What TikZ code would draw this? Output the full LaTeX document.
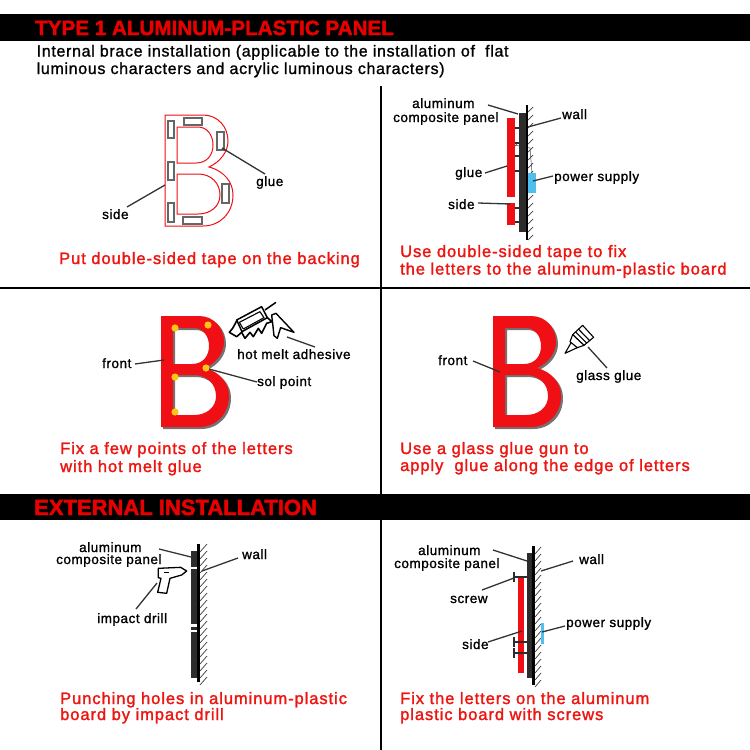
\documentclass[tikz,border=0pt]{standalone}
\usepackage{fontspec}
\setmainfont{Liberation Sans}
\newfontfamily\labfont{Liberation Sans}[FakeBold=1.2,LetterSpace=4]
\newfontfamily\capfont{Liberation Sans}[FakeBold=1.6,LetterSpace=5.7]
\newfontfamily\subfont{Liberation Sans}[FakeBold=1.2,LetterSpace=4.2]
\newfontfamily\headfont{Liberation Sans Bold}[FakeBold=2,LetterSpace=0.5]
\newfontfamily\headbfont{Liberation Sans Bold}[FakeBold=2]
\definecolor{capred}{HTML}{EE1410}
\definecolor{headred}{HTML}{E80000}
\definecolor{lred}{HTML}{F00F14}
\definecolor{panelgray}{HTML}{2C2C2C}
\definecolor{skyb}{HTML}{4FC0EE}
\definecolor{dotyellow}{HTML}{FFC414}
\newcommand{\BShape}{(165,115) -- (203,115) .. controls (218,115) and (228,127) .. (228,141) .. controls (228,152) and (220,162) .. (209,167) .. controls (224,171) and (233,182) .. (233,195) .. controls (233,213) and (220,226) .. (203,226) -- (165,226) -- cycle (177,127) -- (198,127) .. controls (207,127) and (213,135) .. (213,145) .. controls (213,155) and (207,163) .. (196,163) -- (177,163) -- cycle (177,174) -- (198,174) .. controls (211,174) and (220,183) .. (220,195) .. controls (220,206) and (211,214) .. (198,214) -- (177,214) -- cycle}
\tikzset{
  labtxt/.style={inner sep=0pt,anchor=base west,font=\labfont\fontsize{13.5}{15}\selectfont,text=black},
  captxt/.style={inner sep=0pt,anchor=base west,yshift=-1pt,font=\capfont\fontsize{16.5}{18}\selectfont,text=capred},
  subtxt/.style={inner sep=0pt,anchor=base west,font=\subfont\fontsize{16}{18}\selectfont,text=black},
  headtxt/.style={inner sep=0pt,anchor=base west,font=\headfont\fontsize{20.5}{24}\selectfont,text=headred},
  headbtxt/.style={inner sep=0pt,anchor=base west,font=\headbfont\fontsize{22}{24}\selectfont,text=headred},
  leadline/.style={draw=black!80,line width=1.3pt},
  gridline/.style={draw=black,line width=2pt},
  gluebox/.style={draw=black!60,fill=white,line width=1.2pt},
  hatchline/.style={draw=black!75,line width=.7pt},
  tieline/.style={draw=panelgray,line width=1.3pt},
  toolline/.style={draw=black,line width=1.1pt,line join=round,fill=white}
}
\begin{document}
\begin{tikzpicture}[x=1pt,y=-1pt]
\useasboundingbox (0,0) rectangle (750,750);
\fill[white] (0,0) rectangle (750,750);
% bars
\fill[black] (0,14) rectangle (750,41);
\fill[black] (0,494) rectangle (750,520);
\node[headtxt] (title1) at (35,35) {TYPE 1 ALUMINUM-PLASTIC PANEL};
\node[headbtxt] (title2) at (34,515) {EXTERNAL INSTALLATION};
\node[subtxt] (sub1) at (36.5,56.5) {Internal brace installation (applicable to the installation of\ \ flat};
\node[subtxt] (sub2) at (36.5,74) {luminous characters and acrylic luminous characters)};
% grid
\draw[gridline] (381,86) -- (381,494);
\draw[gridline] (381,520) -- (381,750);
\draw[gridline] (0,288) -- (750,288);
% --- cell 1
\draw[draw=lred,line width=1pt,even odd rule] \BShape;
\foreach \a/\b/\c/\d in {168/121/174/138,184/118/202/125,217/132/224/150,168/162/174/180,222/184/229/203,168/203/174/222,183/217/202/224}
  \draw[gluebox] (\a,\b) rectangle (\c,\d);
\node[labtxt] (side1) at (102,219) {side};
\node[labtxt] (glue1) at (256,186) {glue};
\coordinate (s1a) at (127,207); \coordinate (s1b) at (165,185);
\coordinate (g1a) at (265,174); \coordinate (g1b) at (222,148);
\draw[leadline] (s1a) -- (s1b);
\draw[leadline] (g1a) -- (g1b);
\node[captxt] (cap1) at (59,263) {Put double-sided tape on the backing};
% --- cell 2
\draw[line width=.5pt,draw=black!70] (514,145) -- (530,148) -- (532,173);
\draw[line width=.5pt,draw=black!70] (514,147) -- (518,143) -- (528,150);
\foreach \y in {128,143,156,171,208,222} \draw[tieline] (514,\y) -- (519,\y);
\fill[lred] (507,118) rectangle (514.5,197);
\fill[lred] (507,203) rectangle (514.5,225);
\fill[panelgray] (518.5,113) rectangle (526,232);
\draw[draw=black,line width=2pt] (527,105) -- (527,240);
\foreach \y in {108,116,...,236} \draw[hatchline] (528,\y+4) -- (533,\y-1);
\fill[skyb] (528,173) rectangle (536,193);
\node[labtxt] (alu2) at (412,108) {aluminum};
\node[labtxt] (comp2) at (393,122) {composite panel};
\node[labtxt] (wall2) at (562,119) {wall};
\node[labtxt] (glue2) at (455,177) {glue};
\node[labtxt] (pow2) at (554,181) {power supply};
\node[labtxt] (side2) at (448,209) {side};
\coordinate (a2a) at (488,105); \coordinate (a2b) at (518,114);
\coordinate (w2a) at (561,118); \coordinate (w2b) at (528,127);
\coordinate (g2a) at (485,173); \coordinate (g2b) at (507,166);
\coordinate (p2a) at (553,176); \coordinate (p2b) at (533,181);
\coordinate (d2a) at (478,203); \coordinate (d2b) at (510,204);
\draw[leadline] (a2a) -- (a2b);
\draw[leadline] (w2a) -- (w2b);
\draw[leadline] (g2a) -- (g2b);
\draw[leadline] (p2a) -- (p2b);
\draw[leadline] (d2a) -- (d2b);
\node[captxt] (cap2a) at (400,256) {Use double-sided tape to fix};
\node[captxt] (cap2b) at (400,273.5) {the letters to the aluminum-plastic board};
% --- cell 3
\begin{scope}[shift={(-4,201)}]
\fill[black!55,even odd rule,shift={(2,2)}] \BShape;
\fill[lred,even odd rule] \BShape;
\end{scope}
\foreach \x/\y in {175/328,208/325,175/377,206/368,175/412}
  \fill[dotyellow] (\x,\y) circle (3.6);
% glue gun
\begin{scope}[shift={(90,295)},x=.3333pt,y=-.3333pt]
\draw[toolline,line width=1.5pt] (525,45) -- (558,22);
\draw[toolline,line width=1.4pt] (545,60) -- (558,55) -- (612,112) -- (572,98) -- (562,130) -- (552,122) -- (548,85) -- cycle;
\draw[toolline,line width=1.6pt] (440,78) -- (428,100) -- (418,112) -- (440,125) -- (455,112) -- (465,130) -- (480,112) -- (490,125) -- (505,100) -- (515,115) -- (530,85) -- (546,80) -- (532,68) -- cycle;
\draw[toolline,line width=1.5pt] (440,75) -- (515,35) -- (532,68) -- (456,110) -- cycle;
\draw[toolline] (448,82) -- (510,50) -- (522,68) -- (460,102) -- cycle;
\end{scope}
\node[labtxt] (front3) at (102,368) {front};
\node[labtxt] (hot3) at (237,359) {hot melt adhesive};
\node[labtxt] (sol3) at (257,386) {sol point};
\coordinate (f3a) at (135,364); \coordinate (f3b) at (164,360);
\coordinate (h3a) at (315,347); \coordinate (h3b) at (287,337);
\coordinate (o3a) at (257,382); \coordinate (o3b) at (209,369);
\draw[leadline] (f3a) -- (f3b);
\draw[leadline] (h3a) -- (h3b);
\draw[leadline] (o3a) -- (o3b);
\node[captxt] (cap3a) at (60,453) {Fix a few points of the letters};
\node[captxt] (cap3b) at (60,471) {with hot melt glue};
% --- cell 4
\begin{scope}[shift={(328,201)}]
\fill[black!55,even odd rule,shift={(2,2)}] \BShape;
\fill[lred,even odd rule] \BShape;
\end{scope}
\begin{scope}[shift={(430,300)},x=.3333pt,y=-.3333pt]
\draw[toolline] (425,125) -- (405,160) -- (442,143) -- cycle;
\draw[toolline] (458,76) -- (491,112) -- (462,136) -- (428,104) -- cycle;
\draw[toolline] (420,125) -- (428,104) -- (462,136) -- (442,143) -- cycle;
\draw[toolline] (446,88) -- (479,122);
\draw[toolline] (437,96) -- (470,129);
\end{scope}
\node[labtxt] (front4) at (438,365) {front};
\node[labtxt] (glass4) at (576,380) {glass glue};
\coordinate (f4a) at (473,361); \coordinate (f4b) at (500,372);
\coordinate (b4a) at (607,368); \coordinate (b4b) at (588,347);
\draw[leadline] (f4a) -- (f4b);
\draw[leadline] (b4a) -- (b4b);
\node[captxt] (cap4a) at (400,453) {Use a glass glue gun to};
\node[captxt] (cap4b) at (400,470) {apply\ \ glue along the edge of letters};
% --- cell 5
\fill[panelgray] (191,551) rectangle (197,678);
\fill[white] (190,566.5) rectangle (198,568.5);
\fill[white] (190,624) rectangle (198,627);
\fill[white] (190,630) rectangle (198,631.5);
\draw[draw=black,line width=2.6pt] (198.5,544) -- (198.5,682);
\foreach \y in {548,555,...,684} \draw[hatchline] (200,\y+4) -- (207,\y-4);
\begin{scope}[shift={(70,535)},x=.3333pt,y=-.3333pt]
\draw[toolline,line width=1.3pt] (265,100) -- (332,97) -- (350,108) -- (335,120) -- (300,130) -- (290,175) -- (263,172) -- (273,130) -- (265,128) -- cycle;
\draw[draw=black,line width=1.3pt] (282,113) -- (296,113);
\end{scope}
\node[labtxt] (alu5) at (79,552) {aluminum};
\node[labtxt] (comp5) at (56,564) {composite panel};
\node[labtxt] (wall5) at (242,559) {wall};
\node[labtxt] (drill5) at (97,623) {impact drill};
\coordinate (a5a) at (159,549); \coordinate (a5b) at (191,557);
\coordinate (w5a) at (238,558); \coordinate (w5b) at (202,571);
\coordinate (d5a) at (136,609); \coordinate (d5b) at (157,583);
\draw[leadline] (a5a) -- (a5b);
\draw[leadline] (w5a) -- (w5b);
\draw[leadline] (d5a) -- (d5b);
\node[captxt] (cap5a) at (60,703) {Punching holes in aluminum-plastic};
\node[captxt] (cap5b) at (60,719) {board by impact drill};
% --- cell 6
\fill[lred] (518,578) rectangle (524,673);
\fill[panelgray] (527,553) rectangle (532,678);
\draw[draw=black,line width=2.6pt] (533.5,546) -- (533.5,685);
\foreach \y in {550,557,...,687} \draw[hatchline] (535,\y+4) -- (541,\y-3);
\foreach \y in {577,642,653} {
  \draw[draw=panelgray,line width=1.8pt] (514,\y) -- (527,\y);
  \draw[draw=panelgray,line width=2.4pt] (514,\y-5) -- (514,\y+5);
}
\fill[skyb] (541,623) rectangle (544,644);
\node[labtxt] (alu6) at (418,555) {aluminum};
\node[labtxt] (comp6) at (394,568) {composite panel};
\node[labtxt] (wall6) at (579,564) {wall};
\node[labtxt] (screw6) at (450,603) {screw};
\node[labtxt] (side6) at (462,649) {side};
\node[labtxt] (pow6) at (566,627) {power supply};
\coordinate (a6a) at (493,550); \coordinate (a6b) at (527,561);
\coordinate (w6a) at (573,561); \coordinate (w6b) at (541,571);
\coordinate (r6a) at (482,590); \coordinate (r6b) at (514,578);
\coordinate (p6a) at (565,626); \coordinate (p6b) at (542,632);
\coordinate (d6a) at (488,642); \coordinate (d6b) at (522,631);
\draw[leadline] (a6a) -- (a6b);
\draw[leadline] (w6a) -- (w6b);
\draw[leadline] (r6a) -- (r6b);
\draw[leadline] (p6a) -- (p6b);
\draw[leadline] (d6a) -- (d6b);
\node[captxt] (cap6a) at (400,703) {Fix the letters on the aluminum};
\node[captxt] (cap6b) at (400,719) {plastic board with screws};
\end{tikzpicture}
\end{document}
